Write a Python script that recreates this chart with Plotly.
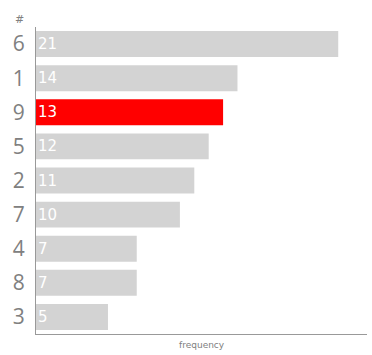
import plotly.graph_objects as go

categories = ["6", "1", "9", "5", "2", "7", "4", "8", "3"]
values = [21, 14, 13, 12, 11, 10, 7, 7, 5]
highlight = "9"

colors = ["#ff0000" if c == highlight else "#d3d3d3" for c in categories]

fig = go.Figure(go.Bar(
    y=categories, x=values, orientation="h",
    marker=dict(color=colors, line=dict(width=0)),
    hoverinfo="x+y",
))

annotations = [
    dict(text=str(v), x=0, y=i, xref="x", yref="y", xanchor="left", yanchor="middle",
         xshift=0, showarrow=False,
         font=dict(color="white", size=15, family="DejaVu Sans"))
    for i, v in enumerate(values)
]
annotations += [
    dict(text="#", xref="paper", yref="paper", x=-0.05, y=1.025,
         xanchor="center", yanchor="middle",
         showarrow=False, font=dict(size=11, color="#808080", family="DejaVu Sans")),
    dict(text="frequency", xref="paper", yref="paper", x=0.5, y=-0.036,
         xanchor="center", yanchor="middle",
         showarrow=False, font=dict(size=9, color="#808080", family="DejaVu Sans")),
]

fig.update_layout(
    width=372, height=355,
    margin=dict(l=36, r=5, t=27, b=21),
    paper_bgcolor="white", plot_bgcolor="white",
    bargap=0.24,
    showlegend=False,
    xaxis=dict(range=[0, 23], showgrid=False, zeroline=False, showticklabels=False,
               showline=True, linecolor="#999999", linewidth=1, ticks=""),
    yaxis=dict(type="category", autorange="reversed", categoryorder="array",
               categoryarray=categories,
               showgrid=False, zeroline=False, showline=True, linecolor="#999999",
               linewidth=1, ticks="", ticklabelstandoff=6,
               tickfont=dict(size=21, color="#808080", family="Open Sans")),
    annotations=annotations,
)

fig.write_html("out.html")
